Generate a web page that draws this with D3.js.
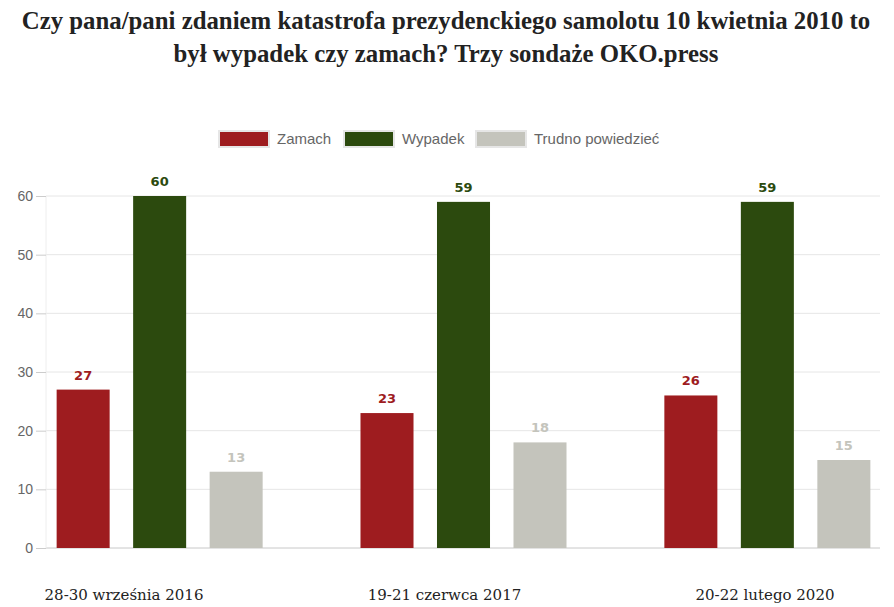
<!DOCTYPE html>
<html><head><meta charset="utf-8">
<script src="https://cdn.jsdelivr.net/npm/d3@7"></script>
<style>body{margin:0;background:#fff}</style>
</head><body>
<svg id="c" width="894" height="607"></svg>
<script>
const title = ["Czy pana/pani zdaniem katastrofa prezydenckiego samolotu 10 kwietnia 2010 to", "był wypadek czy zamach? Trzy sondaże OKO.press"];
const categories = ["28-30 września 2016", "19-21 czerwca 2017", "20-22 lutego 2020"];
const seriesNames = ["Zamach", "Wypadek", "Trudno powiedzieć"];
const zamach = [27, 23, 26];
const wypadek = [60, 59, 59];
const trudno = [13, 18, 15];
const yTicks = [0, 10, 20, 30, 40, 50, 60];
const colors = ["#9e1c1f", "#2c4a0e", "#c4c4bc"];
const labelColors = ["#9e1c1f", "#2c4a0e", "#c4c4bc"];

const series = [zamach, wypadek, trudno];
const svg = d3.select("#c");
const pLeft = 46, pRight = 880, pTop = 196, pBottom = 548;

const y = d3.scaleLinear().domain([0, 60]).range([pBottom, pTop]);
const x0 = d3.scaleBand().domain(categories).range([pLeft, 881]).paddingInner(0.322).paddingOuter(0.035);
const x1 = d3.scaleBand().domain(seriesNames).range([0, x0.bandwidth()]).paddingInner(0.307).paddingOuter(0);
const xl = d3.scalePoint().domain(categories).range([124, 765]);

// title
svg.append("g").selectAll("text").data(title).join("text")
  .attr("x", 446).attr("y", (d, i) => 29 + i * 33)
  .attr("text-anchor", "middle")
  .attr("font-family", "Liberation Serif, serif").attr("font-weight", "bold")
  .attr("font-size", 24.8).attr("fill", "#222").text(d => d);

// gridlines
svg.append("g").selectAll("line").data(yTicks).join("line")
  .attr("x1", pLeft).attr("x2", pRight).attr("y1", d => y(d)).attr("y2", d => y(d))
  .attr("stroke", d => d === 0 ? "#c8c8c8" : "#e6e6e6").attr("stroke-width", 1);
svg.append("line").attr("x1", pLeft).attr("x2", pLeft).attr("y1", pTop).attr("y2", pBottom)
  .attr("stroke", "#eeeeee");

// y axis
const ya = svg.append("g").attr("transform", `translate(${pLeft},0)`)
  .call(d3.axisLeft(y).tickValues(yTicks).tickSize(10).tickPadding(3));
ya.select(".domain").remove();
ya.selectAll(".tick line").attr("stroke", "#cccccc");
ya.selectAll("text").attr("font-family", "Liberation Sans, Arial, sans-serif").attr("font-size", 14).attr("fill", "#666");

// bars
const groups = svg.append("g").selectAll("g").data(categories).join("g")
  .attr("transform", d => `translate(${x0(d)},0)`);
groups.selectAll("rect").data((c, ci) => seriesNames.map((s, si) => ({s, si, v: series[si][ci]})))
  .join("rect")
  .attr("x", d => x1(d.s)).attr("width", x1.bandwidth())
  .attr("y", d => y(d.v)).attr("height", d => y(0) - y(d.v))
  .attr("fill", d => colors[d.si]);
groups.selectAll("text").data((c, ci) => seriesNames.map((s, si) => ({s, si, v: series[si][ci]})))
  .join("text")
  .attr("x", d => x1(d.s) + x1.bandwidth() / 2).attr("y", d => y(d.v) - 10)
  .attr("text-anchor", "middle")
  .attr("font-family", "DejaVu Sans, sans-serif").attr("font-weight", "bold").attr("font-size", 13)
  .attr("fill", d => labelColors[d.si]).text(d => d.v);

// x labels
svg.append("g").selectAll("text").data(categories).join("text")
  .attr("x", d => xl(d)).attr("y", 600).attr("text-anchor", "middle")
  .attr("font-family", "DejaVu Serif, serif").attr("font-size", 15).attr("fill", "#222")
  .text(d => d);

// legend
const legendX = [218, 343, 475];
const lg = svg.append("g").selectAll("g").data(seriesNames).join("g")
  .attr("transform", (d, i) => `translate(${legendX[i]},130)`);
lg.append("rect").attr("x", 1).attr("y", 1).attr("width", 50).attr("height", 16)
  .attr("fill", (d, i) => colors[i]).attr("stroke", "#e6e6e6").attr("stroke-width", 2);
lg.append("text").attr("x", 59).attr("y", 13.5)
  .attr("font-family", "Liberation Sans, Arial, sans-serif").attr("font-size", 15).attr("fill", "#666")
  .text(d => d);
</script>
</body></html>
